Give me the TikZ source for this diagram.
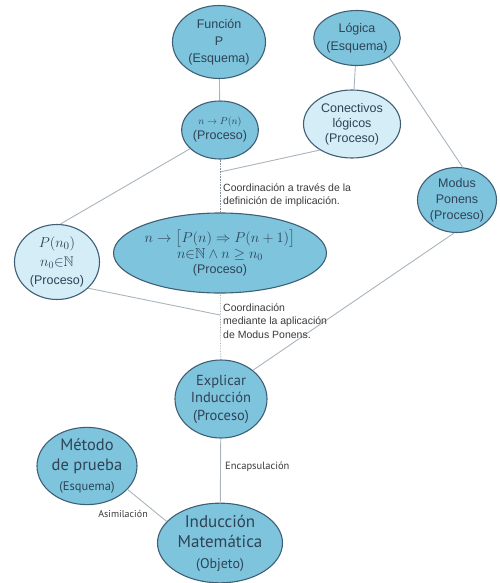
\documentclass[tikz,border=0pt]{standalone}
\usepackage{amsmath,amssymb}
\usepackage{fontspec}
\setmainfont{Liberation Sans}
\newfontfamily\ptsans{PT Sans}
\usetikzlibrary{shapes.geometric}
\definecolor{midb}{HTML}{7EC4DD}
\definecolor{liteb}{HTML}{D4EDF6}
\definecolor{bord}{HTML}{3F5F76}
\definecolor{txt}{HTML}{2F4356}
\definecolor{edgec}{HTML}{A9B4BC}
\definecolor{lbl}{HTML}{3A3A3A}
\tikzset{
  base/.style={ellipse, draw=bord, line width=1.1pt, inner sep=0pt, align=center, text=txt},
  mid/.style={base, fill=midb},
  lite/.style={base, fill=liteb},
  edgeline/.style={draw=edgec, line width=0.9pt},
  dotline/.style={draw=edgec!80!black, line width=0.6pt, densely dotted},
  lab/.style={inner sep=0pt, align=left, text=lbl, anchor=west},
}
\begin{document}
\begin{tikzpicture}[x=1pt,y=-1pt]
\useasboundingbox (0,0) rectangle (499,583);
% nodes
\node[mid, minimum width=93pt, minimum height=73pt, font=\fontsize{12.5}{17}\selectfont] (F) at (219,42) {Función\\P\\(Esquema)};
\node[mid, minimum width=80pt, minimum height=55pt, font=\fontsize{12.5}{17.5}\selectfont] (L) at (357,38) {Lógica\\(Esquema)};
\node[mid, minimum width=76pt, minimum height=58pt, font=\fontsize{12.5}{15}\selectfont] (NP) at (220,130) {{\fontsize{10}{12}\selectfont $n\rightarrow P(n)$}\\(Proceso)};
\node[lite, minimum width=97pt, minimum height=68pt, font=\fontsize{12.5}{15}\selectfont] (C) at (352,124) {Conectivos\\lógicos\\(Proceso)};
\node[mid, minimum width=79pt, minimum height=65pt, font=\fontsize{12.5}{16}\selectfont] (M) at (457,200) {Modus\\Ponens\\(Proceso)};
\node[lite, minimum width=85pt, minimum height=75pt, font=\fontsize{12.5}{18}\selectfont] (P0) at (57,262) {{\fontsize{15}{18}\selectfont $P(n_0)$}\\[1pt]{\fontsize{14}{18}\selectfont $n_0{\in}\mathbb{N}$}\\(Proceso)};
\node[mid, minimum width=204pt, minimum height=80pt, font=\fontsize{12.5}{15}\selectfont] (Cen) at (220,253) {{\fontsize{14.5}{17}\selectfont $n\rightarrow\bigl[P(n)\Rightarrow P(n+1)\bigr]$}\\{\fontsize{14.4}{15}\selectfont $n{\in}\mathbb{N}\wedge n\geq n_0$}\\(Proceso)};
\node[mid, minimum width=92pt, minimum height=78pt, font=\ptsans\fontsize{14.5}{17.5}\selectfont] (E) at (221,399) {Explicar\\Inducción\\(Proceso)};
\node[mid, minimum width=100pt, minimum height=77pt, font=\ptsans\fontsize{16.5}{20}\selectfont] (Met) at (87,466) {Método\\de prueba\\{\fontsize{12.5}{15}\selectfont (Esquema)}};
\node[mid, minimum width=125pt, minimum height=75pt, font=\ptsans\fontsize{17}{20.5}\selectfont] (I) at (220,543) {Inducción\\Matemática\\{\fontsize{14}{16}\selectfont (Objeto)}};
% junction points on the vertical line
\coordinate (c1) at (220,172);
\coordinate (c2) at (220,315);
% connectors
\draw[edgeline] (F) -- (NP);
\draw[edgeline] (L) -- (C);
\draw[edgeline] (L.329) -- (M.80);
\draw[edgeline] (P0.85) -- (NP.212);
\draw[edgeline] (C.219) -- (c1);
\draw[edgeline] (P0.-40) -- (c2);
\draw[edgeline] (M.265) -- (E.42);
\draw[dotline] (NP) -- (Cen);
\draw[dotline] (Cen) -- (E);
\draw[edgeline] (E) -- (I);
\draw[edgeline] (Met.-30) -- (I.158);
% labels
\node[lab, font=\fontsize{10.5}{13}\selectfont] (lab1) at (223,195) {Coordinación a través de la\\definición de implicación.};
\node[lab, font=\fontsize{10.5}{13.5}\selectfont] (lab2) at (223,321) {Coordinación\\mediante la aplicación\\de Modus Ponens.};
\node[lab, font=\ptsans\fontsize{10.5}{12}\selectfont] (lab3) at (225,467) {Encapsulación};
\node[inner sep=0pt, text=lbl, font=\ptsans\fontsize{10}{12}\selectfont] (lab4) at (123,514) {Asimilación};
\end{tikzpicture}
\end{document}
